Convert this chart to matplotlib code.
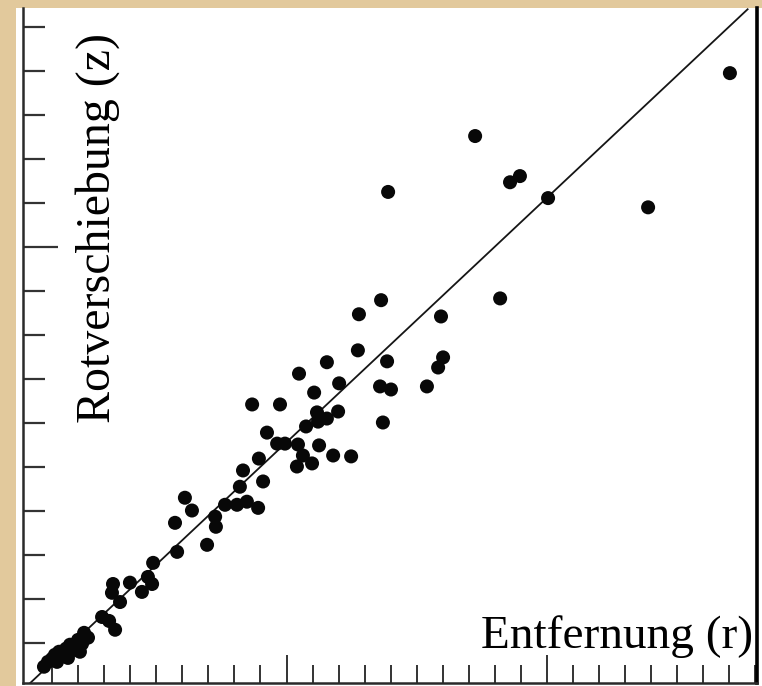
import matplotlib.pyplot as plt
from matplotlib.patches import Rectangle
from matplotlib.ticker import FixedLocator

entfernung = [0.69, 0.84, 1.00, 1.11, 1.27, 1.42, 1.54, 1.69, 1.80, 2.00,
              2.15, 2.23, 2.38, 2.07, 1.61, 1.19, 2.92, 3.19, 3.42, 3.34,
              3.30, 3.61, 3.99, 4.45, 4.68, 4.84, 4.88, 5.80, 6.95, 5.72,
              6.10, 6.37, 7.26, 7.29, 7.64, 8.10, 8.48, 8.91, 8.21, 8.33,
              9.10, 8.94, 9.25, 8.68, 9.75, 9.64, 9.94, 10.44, 11.25, 10.63,
              11.79, 12.48, 10.40, 10.98, 10.48, 11.55, 12.02, 11.06, 11.17, 11.98,
              11.55, 11.21, 10.75, 12.74, 12.78, 13.63, 13.86, 13.59, 14.01, 15.39,
              16.01, 15.82, 15.93, 18.20, 13.70, 13.90, 17.24, 18.58, 18.96, 20.04,
              23.88, 27.02]
rotverschiebung = [0.46, 0.57, 0.64, 0.73, 0.80, 0.73, 0.87, 0.96, 0.84, 1.07,
                   0.98, 1.23, 1.12, 0.80, 0.66, 0.57, 1.59, 1.50, 1.30, 2.34,
                   2.14, 1.93, 2.37, 2.16, 2.50, 2.34, 2.82, 3.07, 3.23, 3.73,
                   4.30, 4.01, 3.87, 3.64, 4.14, 4.14, 4.21, 4.07, 4.55, 4.92,
                   4.67, 5.19, 5.78, 6.42, 6.42, 5.53, 5.53, 5.51, 5.49, 5.26,
                   5.26, 5.24, 5.01, 5.08, 7.12, 7.38, 6.90, 6.69, 6.24, 6.26,
                   6.10, 6.03, 5.92, 7.65, 8.47, 8.79, 7.40, 6.83, 6.76, 6.83,
                   7.49, 7.26, 8.42, 8.83, 6.01, 11.25, 12.52, 11.47, 11.61, 11.11,
                   10.90, 13.95]

# Ausgleichsgerade durch den Ursprung
steigung = 0.556
linie_x = [0, 27.7]

W, H = 762, 686
fig = plt.figure(figsize=(W / 100, H / 100), dpi=100)
fig.patch.set_facecolor('#e2c99c')

# weisses Papier
fig.patches.append(Rectangle((16 / W, 0), (W - 16) / W, (H - 8) / H,
                             transform=fig.transFigure, facecolor='white',
                             edgecolor='none', zorder=-5))

ax = fig.add_axes([23 / W, 3 / H, (757 - 23) / W, (683 - 8) / H])
ax.set_zorder(2)
ax.set_facecolor('none')
ax.set_xlim(-0.115, 28.06)
ax.set_ylim(0.09, 15.43)

ax.scatter(entfernung, rotverschiebung, s=102, color='#080808',
           edgecolors='none', zorder=3)
ax.plot(linie_x, [steigung * v for v in linie_x], color='#151515', lw=1.3, zorder=2)

ax.spines['top'].set_visible(False)
ax.spines['left'].set_color('#2a2a2a')
ax.spines['left'].set_linewidth(1.8)
ax.spines['bottom'].set_color('#2a2a2a')
ax.spines['bottom'].set_linewidth(1.8)
ax.spines['right'].set_color('black')
ax.spines['right'].set_linewidth(2.6)

ax.xaxis.set_major_locator(FixedLocator([10, 20]))
ax.xaxis.set_minor_locator(FixedLocator([i for i in range(1, 29) if i % 10]))
ax.yaxis.set_major_locator(FixedLocator([10]))
ax.yaxis.set_minor_locator(FixedLocator([i for i in range(1, 16) if i % 10]))

ax.tick_params(axis='x', which='major', direction='in', length=20, width=1.4,
               color='#333333', labelbottom=False)
ax.tick_params(axis='x', which='minor', direction='in', length=13, width=1.4,
               color='#333333')
ax.tick_params(axis='y', which='major', direction='in', length=25, width=1.6,
               color='#333333', labelleft=False)
ax.tick_params(axis='y', which='minor', direction='in', length=16, width=1.6,
               color='#333333')

serif = ['Liberation Serif', 'DejaVu Serif']
fig.text(110 / W, 1 - 423 / H, 'Rotverschiebung (z)', rotation=90,
         rotation_mode='anchor', ha='left', va='baseline', fontsize=34.5,
         family=serif, color='black', zorder=4)
fig.text(753 / W, 1 - 648 / H, 'Entfernung (r)', ha='right', va='baseline',
         fontsize=34, family=serif, color='black', zorder=4)

fig.savefig('out.png', dpi=100, facecolor=fig.get_facecolor())
